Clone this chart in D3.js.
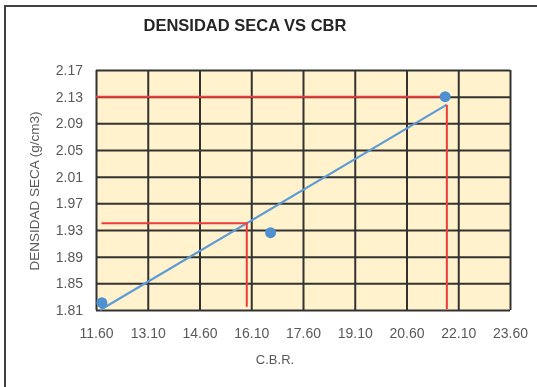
<!DOCTYPE html>
<html>
<head>
<meta charset="utf-8">
<script src="https://cdn.jsdelivr.net/npm/d3@7"></script>
<style>
  html, body { margin: 0; padding: 0; background: #fff; }
  svg { display: block; }
  text { font-family: "Liberation Sans", Arial, sans-serif; }
</style>
</head>
<body>
<div id="chart"></div>
<script>
// Ensayo: densidad seca vs CBR
const cbr = [11.77, 16.66, 21.72];
const densidad = [1.821, 1.926, 2.13];

// Línea de tendencia (extremos)
const trendCbr = [11.72, 21.77];
const trendDens = [1.81, 2.118];

// Líneas guía (rojas)
const guideLowCbr = [11.76, 15.97, 15.97];
const guideLowDens = [1.94, 1.94, 1.815];
const guideHighCbr = [11.6, 21.68];
const guideHighDens = [2.13, 2.13];
const guideHighVertCbr = [21.77, 21.77];
const guideHighVertDens = [2.1175, 1.8115];

const xTicks = [11.60, 13.10, 14.60, 16.10, 17.60, 19.10, 20.60, 22.10, 23.60];
const yTicks = [1.81, 1.85, 1.89, 1.93, 1.97, 2.01, 2.05, 2.09, 2.13, 2.17];

const W = 537, H = 387;
const plot = { left: 96, right: 510, top: 70, bottom: 310 };

const svg = d3.select("#chart").append("svg").attr("width", W).attr("height", H);

const defs = svg.append("defs");
defs.append("filter").attr("id", "soft")
  .append("feGaussianBlur").attr("stdDeviation", 0.75);

const g = svg.append("g").attr("filter", "url(#soft)");

// Marco exterior
g.append("rect").attr("x", 5).attr("y", 6).attr("width", W + 20).attr("height", H + 20)
  .attr("fill", "#fff").attr("stroke", "#3f3f3f").attr("stroke-width", 2);

const x = d3.scaleLinear().domain([xTicks[0], xTicks[xTicks.length - 1]]).range([plot.left, plot.right]);
const y = d3.scaleLinear().domain([yTicks[0], yTicks[yTicks.length - 1]]).range([plot.bottom, plot.top]);

// Fondo del área de trazado
g.append("rect").attr("x", plot.left).attr("y", plot.top)
  .attr("width", plot.right - plot.left).attr("height", plot.bottom - plot.top)
  .attr("fill", "#FFF2CC");

// Cuadrícula
const gridColor = "#333333";
g.append("g").call(d3.axisBottom(x).tickValues(xTicks).tickSize(-(plot.bottom - plot.top)).tickFormat(""))
  .attr("transform", `translate(0,${plot.bottom})`)
  .call(a => a.select(".domain").remove())
  .call(a => a.selectAll("line").attr("stroke", gridColor).attr("stroke-width", 2));
g.append("g").call(d3.axisLeft(y).tickValues(yTicks).tickSize(-(plot.right - plot.left)).tickFormat(""))
  .attr("transform", `translate(${plot.left},0)`)
  .call(a => a.select(".domain").remove())
  .call(a => a.selectAll("line").attr("stroke", gridColor).attr("stroke-width", 2));

// Etiquetas de los ejes
const labelColor = "#595959";
g.append("g").attr("transform", `translate(0,${plot.bottom})`)
  .call(d3.axisBottom(x).tickValues(xTicks).tickSize(0).tickPadding(18).tickFormat(d3.format(".2f")))
  .call(a => a.select(".domain").remove())
  .call(a => a.selectAll("text").attr("fill", labelColor).style("font-size", "14px")
    .style("font-family", "'Liberation Sans', Arial, sans-serif"));
g.append("g").attr("transform", `translate(${plot.left},0)`)
  .call(d3.axisLeft(y).tickValues(yTicks).tickSize(0).tickPadding(13).tickFormat(d3.format(".2f")))
  .call(a => a.select(".domain").remove())
  .call(a => a.selectAll("text").attr("fill", labelColor).style("font-size", "14px")
    .style("font-family", "'Liberation Sans', Arial, sans-serif"));

const line = d3.line().x(d => x(d[0])).y(d => y(d[1]));

// Línea de tendencia
g.append("path").datum(d3.zip(trendCbr, trendDens)).attr("d", line)
  .attr("fill", "none").attr("stroke", "#5B9BD5").attr("stroke-width", 2.2);

// Líneas guía
const red = "#F03A3A";
[[guideLowCbr, guideLowDens], [guideHighCbr, guideHighDens], [guideHighVertCbr, guideHighVertDens]]
  .forEach(([cx, cy]) => {
    g.append("path").datum(d3.zip(cx, cy)).attr("d", line)
      .attr("fill", "none").attr("stroke", red).attr("stroke-width", 2);
  });

// Puntos del ensayo
g.append("g").selectAll("circle").data(d3.zip(cbr, densidad)).join("circle")
  .attr("cx", d => x(d[0])).attr("cy", d => y(d[1])).attr("r", 5.5)
  .attr("fill", "#4F90D0");

// Título
g.append("text").attr("x", 245).attr("y", 31).attr("text-anchor", "middle")
  .attr("fill", "#262626").style("font-size", "16.5px").style("font-weight", "bold")
  .text("DENSIDAD SECA VS CBR");

// Títulos de los ejes
g.append("text").attr("x", 275).attr("y", 364).attr("text-anchor", "middle")
  .attr("fill", labelColor).style("font-size", "13px").text("C.B.R.");
g.append("text").attr("transform", "translate(39,191) rotate(-90)").attr("text-anchor", "middle")
  .attr("fill", labelColor).style("font-size", "13.5px").text("DENSIDAD SECA (g/cm3)");
</script>
</body>
</html>
